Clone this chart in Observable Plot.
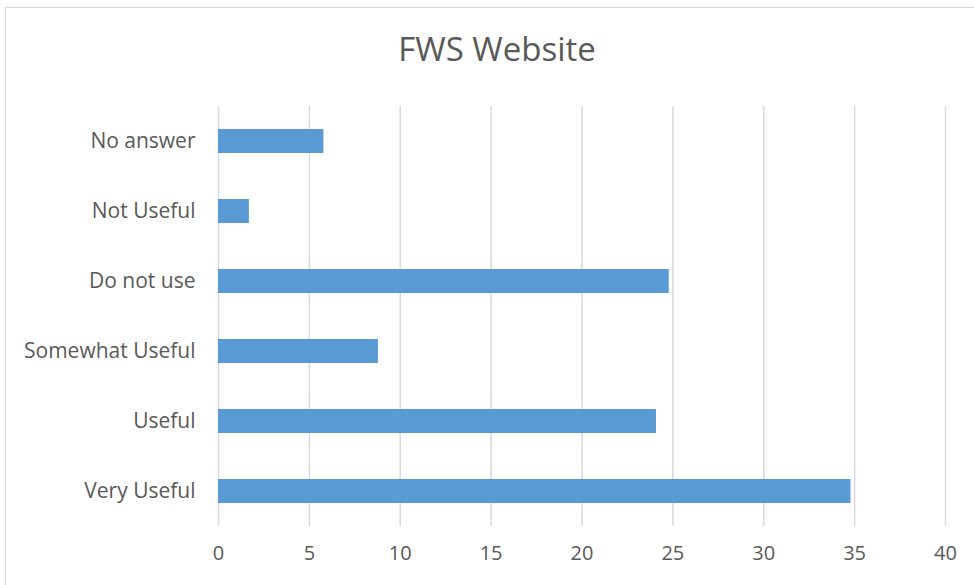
<!DOCTYPE html>
<html>
<head>
<meta charset="utf-8">
<script src="https://cdn.jsdelivr.net/npm/d3@7"></script>
<script src="https://cdn.jsdelivr.net/npm/@observablehq/plot@0.6"></script>
<style>
  html, body { margin: 0; padding: 0; background: #fff; }
  #wrap { position: relative; width: 974px; height: 585px; overflow: hidden; font-family: "Open Sans", sans-serif; }
  #frame { position: absolute; left: 5px; top: 7px; width: 990px; height: 600px; border: 1.5px solid #d9d9d9; box-sizing: border-box; pointer-events: none; }
  #title { position: absolute; left: 0; top: 26px; width: 994px; text-align: center; font-size: 33px; line-height: 46px; color: #595959; font-family: "Open Sans", sans-serif; }
  #chart { position: absolute; left: 0; top: 0; }
</style>
</head>
<body>
<div id="wrap">
  <div id="chart"></div>
  <div id="frame"></div>
  <div id="title">FWS Website</div>
</div>
<script>
const categories = ["No answer", "Not Useful", "Do not use", "Somewhat Useful", "Useful", "Very Useful"];
const values = [5.8, 1.7, 24.8, 8.8, 24.1, 34.8];
const xTicks = [0, 5, 10, 15, 20, 25, 30, 35, 40];

const data = categories.map((c, i) => ({category: c, value: values[i]}));

const chart = Plot.plot({
  width: 974,
  height: 585,
  marginLeft: 218,
  marginRight: 29,
  marginTop: 106,
  marginBottom: 59,
  style: {fontFamily: "'Open Sans', sans-serif", fontSize: "21px", color: "#595959", background: "transparent"},
  x: {domain: [0, 40], ticks: xTicks, label: null, tickSize: 0, tickPadding: 19},
  y: {domain: categories, label: null, tickSize: 0, tickPadding: 23, paddingInner: 0.657, paddingOuter: 0.3285},
  marks: [
    Plot.gridX(xTicks, {stroke: "#d9d9d9", strokeOpacity: 1, strokeWidth: 1.5}),
    Plot.barX(data, {x: "value", y: "category", fill: "#5b9bd5"}),
    Plot.axisX({ticks: xTicks, tickSize: 0, tickPadding: 19, fontSize: 20, fill: "#595959", label: null}),
    Plot.axisY({tickSize: 0, tickPadding: 23, fontSize: 21, fill: "#595959", label: null})
  ]
});
document.getElementById("chart").appendChild(chart);
</script>
</body>
</html>
